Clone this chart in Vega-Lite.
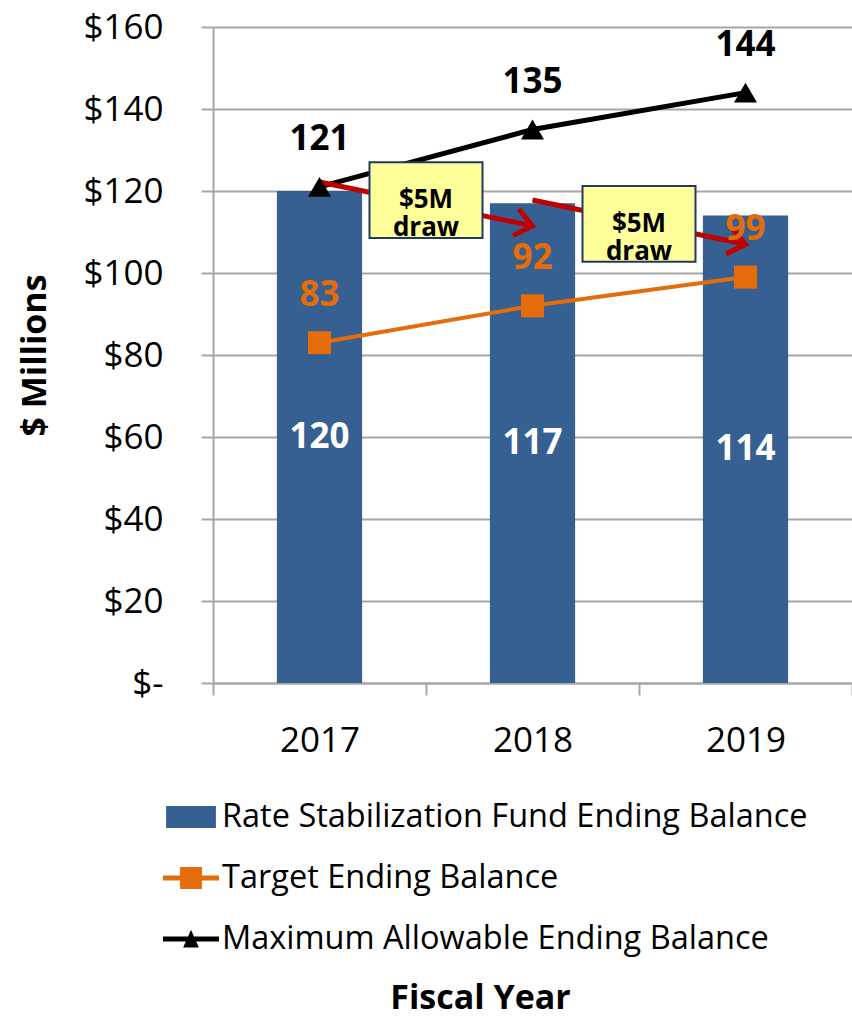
{
  "$schema": "https://vega.github.io/schema/vega-lite/v6.json",
  "autosize": {"type": "none"},
  "padding": {"left": 213, "top": 27, "right": 0, "bottom": 334},
  "width": 639,
  "height": 656,
  "background": "white",
  "config": {
    "font": "Open Sans",
    "view": {"stroke": null},
    "axisX": {
      "title": null, "labelAngle": 0, "labelFontSize": 35, "labelColor": "black", "labelPadding": 28,
      "tickBand": "extent", "tickSize": 12, "tickColor": "#A6A6A6", "tickWidth": 2,
      "domainColor": "#A6A6A6", "domainWidth": 2, "grid": false
    },
    "axisY": {
      "labelFontSize": 35, "labelColor": "black", "labelPadding": 38, "tickSize": 12,
      "tickColor": "#A6A6A6", "tickWidth": 2, "domainColor": "#A6A6A6", "domainWidth": 2,
      "gridColor": "#A6A6A6", "gridWidth": 2, "titleFontSize": 34, "titleFontWeight": "bold",
      "titleColor": "black", "titlePadding": 30
    },
    "legend": {
      "orient": "none", "legendX": -50, "legendY": 762, "direction": "vertical", "padding": 0,
      "symbolSize": 3136, "symbolStrokeWidth": 0, "symbolOpacity": 1, "labelFontSize": 32.5,
      "labelColor": "black", "labelOffset": 3, "rowPadding": 16, "labelLimit": 800
    }
  },
  "datasets": {
    "balances": [
      {"year": "2017", "series": "Rate Stabilization Fund Ending Balance", "value": 120},
      {"year": "2018", "series": "Rate Stabilization Fund Ending Balance", "value": 117},
      {"year": "2019", "series": "Rate Stabilization Fund Ending Balance", "value": 114},
      {"year": "2017", "series": "Target Ending Balance", "value": 83},
      {"year": "2018", "series": "Target Ending Balance", "value": 92},
      {"year": "2019", "series": "Target Ending Balance", "value": 99},
      {"year": "2017", "series": "Maximum Allowable Ending Balance", "value": 121},
      {"year": "2018", "series": "Maximum Allowable Ending Balance", "value": 135},
      {"year": "2019", "series": "Maximum Allowable Ending Balance", "value": 144}
    ],
    "boxes": [
      {"year": "2018", "value": 117.8, "label": "$5M\ndraw"},
      {"year": "2019", "value": 112, "label": "$5M\ndraw"}
    ],
    "arrows": [
      {"year": "2017", "year2": "2018", "value": 122.2, "value2": 111.5},
      {"year": "2018", "year2": "2019", "value": 117.8, "value2": 107}
    ]
  },
  "title": {
    "text": "Fiscal Year", "orient": "bottom", "anchor": "middle", "frame": "group", "dx": -52,
    "offset": 26, "fontSize": 34, "fontWeight": "bold", "font": "Open Sans", "color": "black"
  },
  "layer": [
    {
      "layer": [
        {
          "data": {"name": "balances"},
          "mark": {"type": "point", "filled": true, "opacity": 0},
          "encoding": {
            "x": {"field": "year", "type": "ordinal", "scale": {"paddingInner": 0, "paddingOuter": 0}},
            "y": {"field": "value", "type": "quantitative", "scale": {"domain": [0, 160]}},
            "color": {
              "field": "series", "type": "nominal", "title": null,
              "scale": {
                "domain": ["Rate Stabilization Fund Ending Balance", "Target Ending Balance", "Maximum Allowable Ending Balance"],
                "range": ["#376092", "#E46C0A", "#000000"]
              }
            },
            "shape": {
              "field": "series", "type": "nominal", "title": null,
              "scale": {
                "domain": ["Rate Stabilization Fund Ending Balance", "Target Ending Balance", "Maximum Allowable Ending Balance"],
                "range": [
                  "M-0.89,-0.39H0.89V0.39H-0.89Z",
                  "M-1,-0.09H1V0.09H-1Z M-0.39,-0.39H0.39V0.39H-0.39Z",
                  "M-1,-0.09H1V0.09H-1Z M0,-0.33L0.28,0.3H-0.28Z"
                ]
              }
            }
          }
        },
        {
          "data": {"name": "balances"},
          "transform": [{"filter": "datum.series == 'Rate Stabilization Fund Ending Balance'"}],
          "mark": {"type": "bar", "color": "#376092", "width": {"band": 0.4}},
          "encoding": {
            "x": {"field": "year", "type": "ordinal"},
            "y": {
              "field": "value", "type": "quantitative", "scale": {"domain": [0, 160]},
              "axis": {
                "title": "$ Millions", "grid": true, "values": [0, 20, 40, 60, 80, 100, 120, 140, 160],
                "labelExpr": "datum.value == 0 ? '$-' : '$' + datum.value"
              }
            }
          }
        },
        {
          "data": {"name": "balances"},
          "transform": [{"filter": "datum.series == 'Target Ending Balance'"}],
          "mark": {"type": "line", "color": "#E46C0A", "strokeWidth": 4},
          "encoding": {
            "x": {"field": "year", "type": "ordinal"},
            "y": {"field": "value", "type": "quantitative"}
          }
        },
        {
          "data": {"name": "balances"},
          "transform": [{"filter": "datum.series == 'Maximum Allowable Ending Balance'"}],
          "mark": {"type": "line", "color": "#000000", "strokeWidth": 5},
          "encoding": {
            "x": {"field": "year", "type": "ordinal"},
            "y": {"field": "value", "type": "quantitative"}
          }
        },
        {
          "data": {"name": "arrows"},
          "mark": {"type": "rule", "color": "#C00000", "strokeWidth": 5},
          "encoding": {
            "x": {"field": "year", "type": "ordinal"},
            "x2": {"field": "year2"},
            "y": {"field": "value", "type": "quantitative"},
            "y2": {"field": "value2"}
          }
        },
        {
          "data": {"name": "arrows"},
          "mark": {"type": "point", "shape": "M-1,-0.8L0,0L-1,0.8", "filled": false, "color": "#C00000", "strokeWidth": 5, "size": 1156, "angle": 12, "opacity": 1},
          "encoding": {
            "x": {"field": "year2", "type": "ordinal"},
            "y": {"field": "value2", "type": "quantitative"}
          }
        },
        {
          "data": {"name": "balances"},
          "transform": [{"filter": "datum.series == 'Target Ending Balance'"}],
          "mark": {"type": "point", "shape": "square", "filled": true, "color": "#E46C0A", "size": 529, "opacity": 1},
          "encoding": {
            "x": {"field": "year", "type": "ordinal"},
            "y": {"field": "value", "type": "quantitative"}
          }
        },
        {
          "data": {"name": "balances"},
          "transform": [{"filter": "datum.series == 'Maximum Allowable Ending Balance'"}],
          "mark": {"type": "point", "shape": "triangle-up", "filled": true, "color": "#000000", "size": 529, "opacity": 1},
          "encoding": {
            "x": {"field": "year", "type": "ordinal"},
            "y": {"field": "value", "type": "quantitative"}
          }
        },
        {
          "data": {"name": "boxes"},
          "mark": {"type": "point", "shape": "M-1,-0.67H1V0.67H-1Z", "filled": true, "fill": "#FFFF99", "stroke": "#1F3864", "strokeWidth": 2, "size": 12769, "opacity": 1},
          "encoding": {
            "x": {"field": "year", "type": "ordinal", "bandPosition": 0},
            "y": {"field": "value", "type": "quantitative"}
          }
        },
        {
          "data": {"name": "boxes"},
          "mark": {"type": "text", "fontSize": 26, "fontWeight": "bold", "color": "black", "lineBreak": "\n", "lineHeight": 28, "baseline": "middle"},
          "encoding": {
            "x": {"field": "year", "type": "ordinal", "bandPosition": 0},
            "y": {"field": "value", "type": "quantitative"},
            "text": {"field": "label"}
          }
        },
        {
          "data": {"name": "balances"},
          "transform": [{"filter": "datum.series == 'Maximum Allowable Ending Balance'"}],
          "mark": {"type": "text", "fontSize": 35, "fontWeight": "bold", "color": "black", "dy": -48, "baseline": "middle"},
          "encoding": {
            "x": {"field": "year", "type": "ordinal"},
            "y": {"field": "value", "type": "quantitative"},
            "text": {"field": "value", "type": "quantitative"}
          }
        },
        {
          "data": {"name": "balances"},
          "transform": [{"filter": "datum.series == 'Target Ending Balance'"}],
          "mark": {"type": "text", "fontSize": 35, "fontWeight": "bold", "color": "#E46C0A", "dy": -48, "baseline": "middle"},
          "encoding": {
            "x": {"field": "year", "type": "ordinal"},
            "y": {"field": "value", "type": "quantitative"},
            "text": {"field": "value", "type": "quantitative"}
          }
        }
      ]
    },
    {
      "data": {"name": "balances"},
      "transform": [{"filter": "datum.series == 'Rate Stabilization Fund Ending Balance'"}],
      "mark": {"type": "text", "fontSize": 35, "fontWeight": "bold", "color": "white", "baseline": "middle"},
      "encoding": {
        "x": {"field": "year", "type": "ordinal"},
        "y": {"field": "value", "type": "quantitative", "scale": {"domain": [0, 320]}, "axis": null},
        "text": {"field": "value", "type": "quantitative"}
      }
    }
  ],
  "resolve": {"scale": {"y": "independent"}}
}
